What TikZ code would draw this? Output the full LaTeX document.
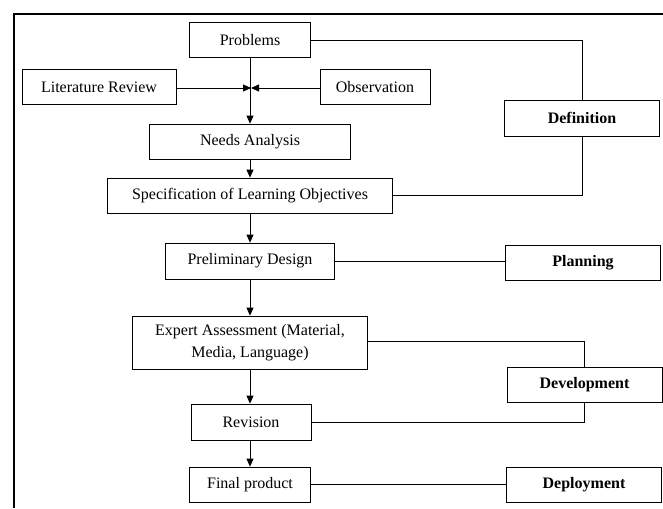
\documentclass[tikz,border=0pt]{standalone}
\usepackage{fontspec}
\setmainfont{Liberation Serif}
\usetikzlibrary{arrows.meta}
\begin{document}
\begin{tikzpicture}[x=1pt,y=-1pt,
  box/.style={draw,line width=0.8pt,inner sep=0pt,align=center,font=\fontsize{16}{22}\selectfont},
  phase/.style={box,font=\fontsize{16}{22}\selectfont\bfseries,minimum width=155pt,minimum height=35pt},
  conn/.style={line width=0.8pt},
  arr/.style={conn,-{Triangle[length=8pt,width=7pt]}}]
\useasboundingbox (0,0) rectangle (663,508);
\draw[line width=1.2pt] (663,14) -- (14,14) -- (14,508);
% main column
\node[box,minimum width=121pt,minimum height=35pt] (prob) at (250,40) {Problems};
\node[box,minimum width=154pt,minimum height=35pt] (lit) at (99,87) {Literature Review};
\node[box,minimum width=110pt,minimum height=35pt] (obs) at (375,87) {Observation};
\node[box,minimum width=201pt,minimum height=35pt] (needs) at (250,141.5) {Needs Analysis};
\node[box,minimum width=285pt,minimum height=35pt] (spec) at (250,195.5) {Specification of Learning Objectives};
\node[box,minimum width=169pt,minimum height=36pt] (pd) at (250,261) {Preliminary Design};
\node[box,minimum width=235pt,minimum height=53pt] (ea) at (250,342.5) {Expert Assessment (Material,\\Media, Language)};
\node[box,minimum width=120pt,minimum height=36pt] (rev) at (251,422) {Revision};
\node[box,minimum width=121pt,minimum height=35pt] (fin) at (250,484.5) {Final product};
% phases
\node[phase,minimum height=36pt] (def) at (582,118) {Definition};
\node[phase] (plan) at (583,262.5) {Planning};
\node[phase] (dev) at (584.5,384.5) {Development};
\node[phase] (dep) at (584,484.5) {Deployment};
% arrows main
\coordinate (J) at (251,88);
\draw[arr] (prob.south) -- (needs.north);
\draw[arr] (lit.east |- J) -- (J);
\draw[arr] (obs.west |- J) -- (J);
\draw[arr] (needs.south) -- (spec.north);
\draw[arr] (spec.south) -- (pd.north);
\draw[arr] (pd.south) -- (ea.north);
\draw[arr] (ea.south) -- (ea.south |- rev.north);
\draw[arr] (rev.south -| fin.north) -- (fin.north);
% phase connectors
\draw[conn] (prob.east) -| (def.north);
\draw[conn] (def.south) |- (spec.east);
\draw[conn] (pd.east) -- (pd.east -| plan.west);
\draw[conn] (ea.east |- 0,341) -| (dev.north);
\draw[conn] (dev.south) |- (rev.east);
\draw[conn] (fin.east) -- (dep.west);
\end{tikzpicture}
\end{document}
